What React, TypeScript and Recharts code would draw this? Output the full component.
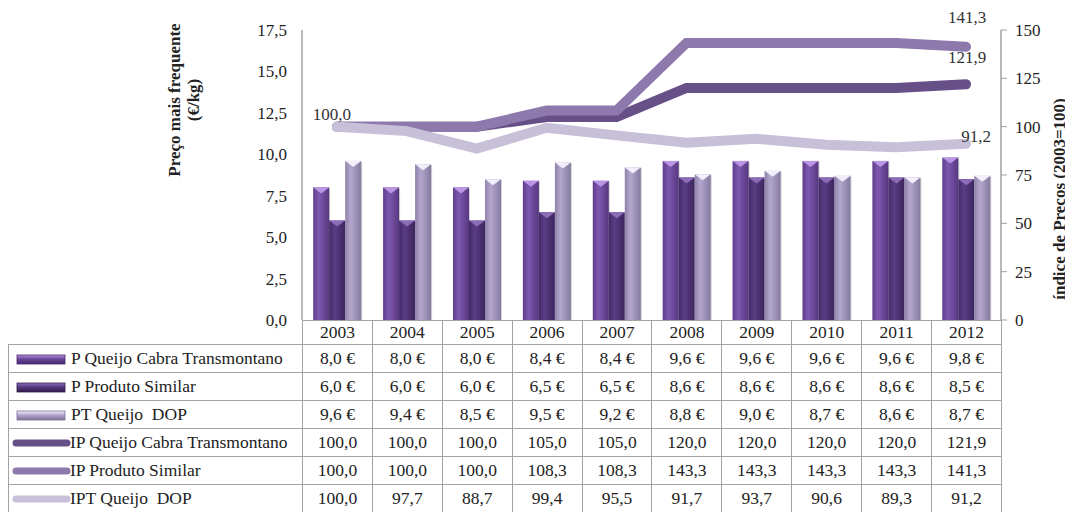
import React from 'react'
import {ComposedChart, Bar, Line, XAxis, YAxis, LabelList} from 'recharts'

const years = ['2003', '2004', '2005', '2006', '2007', '2008', '2009', '2010', '2011', '2012']
const pQueijo = [8.0, 8.0, 8.0, 8.4, 8.4, 9.6, 9.6, 9.6, 9.6, 9.8]
const pSimilar = [6.0, 6.0, 6.0, 6.5, 6.5, 8.6, 8.6, 8.6, 8.6, 8.5]
const ptDop = [9.6, 9.4, 8.5, 9.5, 9.2, 8.8, 9.0, 8.7, 8.6, 8.7]
const ipQueijo = [100, 100, 100, 105, 105, 120, 120, 120, 120, 121.9]
const ipSimilar = [100, 100, 100, 108.3, 108.3, 143.3, 143.3, 143.3, 143.3, 141.3]
const iptDop = [100, 97.7, 88.7, 99.4, 95.5, 91.7, 93.7, 90.6, 89.3, 91.2]
const priceTicks = [0, 2.5, 5, 7.5, 10, 12.5, 15, 17.5]
const indexTicks = [0, 25, 50, 75, 100, 125, 150]

const data = years.map((year, i) => ({
  year,
  pQueijo: pQueijo[i],
  pSimilar: pSimilar[i],
  ptDop: ptDop[i],
  ipQueijo: ipQueijo[i],
  ipSimilar: ipSimilar[i],
  iptDop: iptDop[i],
}))

const font = '"Liberation Serif", "DejaVu Serif", "Times New Roman", serif'
const comma = (v: number) => v.toFixed(1).replace('.', ',')

const barStyles: Record<string, {g: string; tip: string}> = {
  a: {g: 'gA', tip: '#b995e4'},
  b: {g: 'gB', tip: '#8c6cb8'},
  c: {g: 'gC', tip: '#f3eefc'},
}

const makeBar = (key: string) => (props: any) => {
  const {x, y, width, height} = props
  if (!height || height <= 0) return null
  const s = barStyles[key]
  return (
    <g>
      <rect x={x + 1} y={y + 1} width={width} height={height - 1} fill="rgba(0,0,0,0.18)" />
      <rect x={x} y={y} width={width} height={height} fill={`url(#${s.g})`} />
      <polygon points={`${x},${y} ${x + width},${y} ${x + width / 2},${y + 6}`} fill={s.tip} />
    </g>
  )
}

const labelAt = (idx: number, dx: number, dy: number) => (props: any) => {
  const {x, y, value, index} = props
  if (index !== idx) return null
  return (
    <text x={x + dx} y={y + dy} textAnchor="middle" dominantBaseline="central" fontSize={17} fill="#333" style={{fontFamily: font}}>
      {comma(Number(value))}
    </text>
  )
}

const rows = [
  {name: 'P Queijo Cabra Transmontano', values: pQueijo, kind: 'bar', c1: '#b593e0', c2: '#6a4597', c3: '#45286e', euro: true},
  {name: 'P Produto Similar', values: pSimilar, kind: 'bar', c1: '#8e6fbb', c2: '#553a80', c3: '#2f1c4b', euro: true},
  {name: 'PT Queijo  DOP', values: ptDop, kind: 'bar', c1: '#f4effc', c2: '#b2a6cc', c3: '#7d7197', euro: true},
  {name: 'IP Queijo Cabra Transmontano', values: ipQueijo, kind: 'line', c1: '#674f87', euro: false},
  {name: 'IP Produto Similar', values: ipSimilar, kind: 'line', c1: '#8e79ac', euro: false},
  {name: 'IPT Queijo  DOP', values: iptDop, kind: 'line', c1: '#c8c0d8', euro: false},
]

const border = '1px solid #a3a3a3'

const Swatch = ({row, i}: {row: any; i: number}) => {
  if (row.kind === 'bar') {
    return (
      <svg width={52} height={12} style={{position: 'absolute', left: 7, top: 9}}>
        <defs>
          <linearGradient id={`sw${i}`} x1="0" y1="0" x2="0" y2="1">
            <stop offset="0%" stopColor={row.c1} />
            <stop offset="45%" stopColor={row.c2} />
            <stop offset="100%" stopColor={row.c3} />
          </linearGradient>
        </defs>
        <rect x={1} y={1} width={48} height={9} fill={`url(#sw${i})`} stroke={row.c3} strokeWidth={0.8} />
      </svg>
    )
  }
  return (
    <svg width={60} height={12} style={{position: 'absolute', left: 2, top: 8}}>
      <line x1={5} y1={6} x2={56} y2={6} stroke={row.c1} strokeWidth={7} strokeLinecap="round" />
    </svg>
  )
}

const App = () => {
  const tick = {fill: '#222', fontSize: 17, style: {fontFamily: font}}
  return (
    <div style={{position: 'relative', width: 1057, height: 504, fontFamily: font, color: '#222'}}>
      <ComposedChart width={1057} height={340} data={data} margin={{top: 22, right: 0, bottom: 28, left: 0}} barCategoryGap="16%" barGap={0} style={{overflow: 'visible'}}>
        <defs>
          <linearGradient id="gA" x1="0" y1="0" x2="1" y2="0">
            <stop offset="0%" stopColor="#5e3c8a" />
            <stop offset="35%" stopColor="#7f58b0" />
            <stop offset="100%" stopColor="#573780" />
          </linearGradient>
          <linearGradient id="gB" x1="0" y1="0" x2="1" y2="0">
            <stop offset="0%" stopColor="#432a68" />
            <stop offset="35%" stopColor="#5a3d84" />
            <stop offset="100%" stopColor="#3c255d" />
          </linearGradient>
          <linearGradient id="gC" x1="0" y1="0" x2="1" y2="0">
            <stop offset="0%" stopColor="#8f82aa" />
            <stop offset="35%" stopColor="#b3a7cd" />
            <stop offset="100%" stopColor="#857a9f" />
          </linearGradient>
        </defs>
        <XAxis dataKey="year" hide />
        <YAxis
          yAxisId="p"
          width={294}
          domain={[0, 17.5]}
          ticks={priceTicks}
          tickFormatter={(v: number) => comma(v)}
          tickLine={false}
          tickSize={0}
          tickMargin={15}
          axisLine={{stroke: '#a0a0a0', strokeWidth: 1.5}}
          tick={tick}
          interval={0}
        />
        <YAxis
          yAxisId="i"
          orientation="right"
          width={64}
          domain={[0, 150]}
          ticks={indexTicks}
          tickLine={{stroke: '#a0a0a0'}}
          tickSize={6}
          tickMargin={8}
          axisLine={{stroke: '#a0a0a0', strokeWidth: 1.5}}
          tick={tick}
          interval={0}
        />
        <Bar yAxisId="p" dataKey="pQueijo" shape={makeBar('a')} isAnimationActive={false} />
        <Bar yAxisId="p" dataKey="pSimilar" shape={makeBar('b')} isAnimationActive={false} />
        <Bar yAxisId="p" dataKey="ptDop" shape={makeBar('c')} isAnimationActive={false} />
        <Line yAxisId="i" dataKey="ipQueijo" stroke="#674f87" strokeWidth={10} strokeLinecap="round" strokeLinejoin="miter" dot={false} activeDot={false} isAnimationActive={false}>
          <LabelList dataKey="ipQueijo" content={labelAt(9, 1, -27)} />
        </Line>
        <Line yAxisId="i" dataKey="ipSimilar" stroke="#8e79ac" strokeWidth={10} strokeLinecap="round" strokeLinejoin="miter" dot={false} activeDot={false} isAnimationActive={false}>
          <LabelList dataKey="ipSimilar" content={labelAt(9, 1, -29)} />
        </Line>
        <Line yAxisId="i" dataKey="iptDop" stroke="#c8c0d8" strokeWidth={10} strokeLinecap="round" strokeLinejoin="miter" dot={false} activeDot={false} isAnimationActive={false}>
          <LabelList dataKey="iptDop" content={labelAt(0, -5, -12)} />
          <LabelList dataKey="iptDop" content={labelAt(9, 10, -7)} />
        </Line>
      </ComposedChart>

      <div style={{position: 'absolute', left: 176, top: 92, transform: 'translate(-50%, -50%) rotate(-90deg)', whiteSpace: 'nowrap', textAlign: 'center', fontWeight: 'bold', fontSize: 17, lineHeight: '19px'}}>
        Preço mais frequente
        <br />
        (€/kg)
      </div>
      <div style={{position: 'absolute', left: 1052, top: 191, transform: 'translate(-50%, -50%) rotate(-90deg)', whiteSpace: 'nowrap', fontWeight: 'bold', fontSize: 17, lineHeight: '18px'}}>
        índice de Preços (2003=100)
      </div>

      <table style={{position: 'absolute', left: 0, top: 312, borderCollapse: 'collapse', tableLayout: 'fixed', width: 993, fontSize: 17.5, fontFamily: font}}>
        <colgroup>
          <col style={{width: 294}} />
          {years.map(y => (
            <col key={y} style={{width: 69.9}} />
          ))}
        </colgroup>
        <tbody>
          <tr style={{height: 24}}>
            <td style={{padding: 0}} />
            {years.map(y => (
              <td key={y} style={{border, textAlign: 'center', padding: 0, background: '#fff'}}>
                {y}
              </td>
            ))}
          </tr>
          {rows.map((row, i) => (
            <tr key={row.name} style={{height: 28}}>
              <td style={{border, padding: 0, position: 'relative', whiteSpace: 'pre', background: '#fff'}}>
                <Swatch row={row} i={i} />
                <span style={{paddingLeft: row.kind === 'bar' ? 62 : 61}}>{row.name}</span>
              </td>
              {row.values.map((v, j) => (
                <td key={j} style={{border, textAlign: 'center', padding: 0, background: '#fff'}}>
                  {row.euro ? `${comma(v)} €` : comma(v)}
                </td>
              ))}
            </tr>
          ))}
        </tbody>
      </table>
    </div>
  )
}

export default App
